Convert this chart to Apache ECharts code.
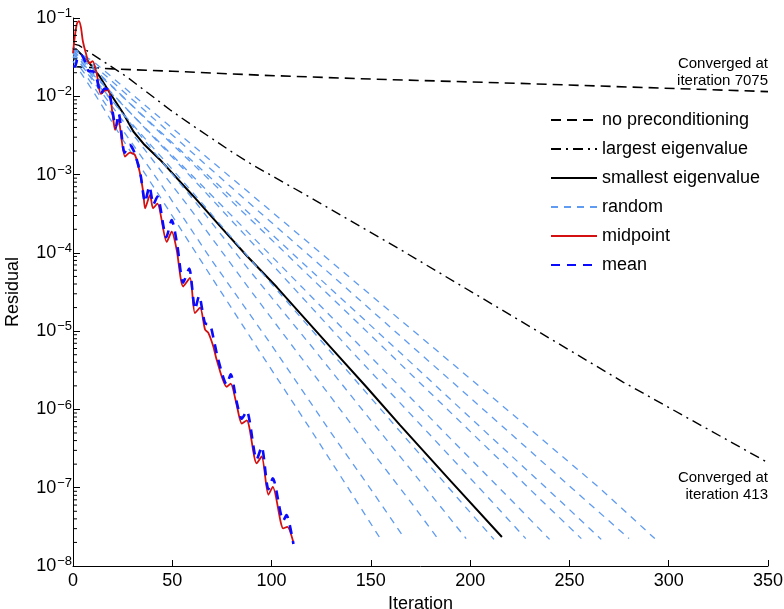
<!DOCTYPE html>
<html>
<head>
<meta charset="utf-8">
<script src="https://cdn.jsdelivr.net/npm/echarts@6/dist/echarts.min.js"></script>
<style>
  html, body { margin: 0; padding: 0; background: #ffffff; }
  #chart { width: 784px; height: 609px; }
</style>
</head>
<body>
<div id="chart"></div>
<script>
// points are [iteration, log10(residual)]
const noPrecond = [[0, -1.62], [20, -1.65], [50, -1.68], [94, -1.73], [150, -1.78], [225, -1.835], [290, -1.89], [350, -1.94]]

const largestEig = [[0, -1.33], [3, -1.35], [15, -1.55], [27, -1.75], [49, -2.175], [60, -2.37], [70, -2.54], [80, -2.71],
  [90, -2.87], [120, -3.30], [165, -3.96], [220, -4.79], [277, -5.65], [350, -6.68]]

const smallestEig = [[0, -1.38], [2, -1.41], [7, -1.536], [13.6, -1.753], [18.6, -1.958], [25.2, -2.213], [30.4, -2.45],
  [36, -2.62], [43.8, -2.81], [60.4, -3.27], [75.5, -3.70], [87.6, -4.04], [102.7, -4.44], [114.3, -4.77],
  [130.9, -5.24], [148, -5.72], [164.7, -6.20], [190, -6.91], [216, -7.63]]

const randomRuns = [
  [[0, -1.55], [10, -1.93], [25, -2.55], [45, -3.33], [70, -4.32], [95, -5.30], [120, -6.27], [140, -7.06], [155, -7.66]],
  [[0, -1.50], [10, -1.86], [25, -2.43], [45, -3.15], [70, -4.10], [100, -5.18], [130, -6.30], [150, -7.02], [167, -7.65]],
  [[0, -1.45], [10, -1.80], [30, -2.48], [60, -3.47], [90, -4.50], [120, -5.51], [150, -6.52], [170, -7.18], [184, -7.66]],
  [[0, -1.42], [10, -1.75], [30, -2.38], [60, -3.30], [90, -4.26], [120, -5.19], [150, -6.14], [180, -7.08], [198, -7.65]],
  [[0, -1.48], [10, -1.78], [30, -2.36], [60, -3.22], [95, -4.25], [130, -5.27], [165, -6.29], [195, -7.17], [212, -7.66]],
  [[0, -1.40], [10, -1.70], [30, -2.24], [65, -3.18], [100, -4.14], [140, -5.25], [180, -6.33], [210, -7.15], [228, -7.65]],
  [[0, -1.45], [10, -1.72], [35, -2.37], [70, -3.27], [110, -4.30], [150, -5.33], [190, -6.37], [220, -7.14], [240, -7.66]],
  [[0, -1.38], [10, -1.63], [35, -2.25], [75, -3.22], [115, -4.20], [160, -5.30], [200, -6.28], [235, -7.14], [256, -7.65]],
  [[0, -1.42], [10, -1.65], [40, -2.36], [80, -3.29], [120, -4.23], [165, -5.28], [210, -6.34], [245, -7.16], [266, -7.66]],
  [[0, -1.37], [10, -1.59], [40, -2.27], [85, -3.28], [130, -4.28], [175, -5.29], [220, -6.30], [255, -7.09], [280, -7.65]],
  [[0, -1.40], [10, -1.55], [45, -2.30], [90, -3.26], [135, -4.22], [180, -5.18], [225, -6.14], [265, -7.00], [293, -7.65]],
]

const midpoint = [[0, -1.45], [1, -1.22], [2, -1.07], [3, -1.04], [4, -1.12], [5, -1.30], [6.5, -1.45], [8.2, -1.58],
  [9.9, -1.55], [12, -1.72], [14, -1.97], [16, -1.93], [17.8, -1.92], [20.3, -2.30], [21.2, -2.43], [22.8, -2.30],
  [26.2, -2.77], [28.7, -2.72], [31.2, -2.75], [33.7, -2.98], [35.4, -3.23], [36.3, -3.43], [38.8, -3.26], [40.3, -3.43],
  [42.5, -3.37], [47.2, -3.86], [49.7, -3.73], [52.2, -3.96], [55.5, -4.43], [58.9, -4.32], [61.4, -4.77], [64, -4.70],
  [66.5, -4.98], [68.1, -5.02], [70.7, -5.20], [72.4, -5.37], [77.4, -5.71], [79.4, -5.67], [82.4, -5.94], [85, -6.18],
  [87.5, -6.14], [92.5, -6.69], [95, -6.60], [98.4, -7.09], [100.6, -6.99], [105.9, -7.52], [107.9, -7.50], [111, -7.70]]

const mean = [[0, -1.62], [1, -1.62], [2.5, -1.49], [4, -1.47], [6, -1.55], [8, -1.68], [10, -1.68], [12, -1.78],
  [14, -1.97], [16, -1.90], [18, -1.92], [20.3, -2.25], [21.5, -2.40], [23, -2.22], [26, -2.72], [28.5, -2.62],
  [31, -2.72], [34, -3.00], [36.3, -3.35], [38.5, -3.15], [40.5, -3.38], [42.5, -3.28], [47, -3.80], [49.7, -3.58],
  [52.5, -3.90], [55.5, -4.38], [58.5, -4.20], [61.5, -4.72], [63.5, -4.55], [66.5, -4.90], [69, -4.92], [71, -5.12],
  [73, -5.35], [77.4, -5.68], [79.4, -5.55], [82.4, -5.90], [85, -6.12], [87.5, -6.02], [92.5, -6.64], [95, -6.48],
  [98.4, -7.02], [100.6, -6.88], [105.9, -7.42], [107.5, -7.35], [111, -7.72]]

const legendNames = ['no preconditioning', 'largest eigenvalue', 'smallest eigenvalue', 'random', 'midpoint', 'mean']
const minorMantissas = [2, 3, 4, 5, 6, 7, 8, 9]
const minorDecades = [-8, -7, -6, -5, -4, -3, -2]

const FONT = '"Liberation Sans", Arial, Helvetica, sans-serif'

const toResidual = (pts) => pts.map(([it, lg]) => [it, Math.pow(10, lg)])

const minorTicks = []
minorDecades.forEach((d) => {
  minorMantissas.forEach((m) => minorTicks.push([0, m * Math.pow(10, d)]))
})

const lineSeries = (name, pts, color, width, type, extra) => Object.assign({
  name,
  type: 'line',
  data: toResidual(pts),
  symbol: 'none',
  smooth: false,
  clip: true,
  lineStyle: { color, width, type },
  itemStyle: { color },
  emphasis: { disabled: true },
}, extra || {})

const chart = echarts.init(document.getElementById('chart'))

const lastNoPrecond = noPrecond[noPrecond.length - 1]
const lastLargest = largestEig[largestEig.length - 1]

chart.setOption({
  animation: false,
  textStyle: { fontFamily: FONT },
  grid: { left: 73, right: 16, top: 18, bottom: 43, outerBoundsMode: 'none' },
  legend: {
    data: legendNames,
    orient: 'vertical',
    left: 545,
    top: 106,
    padding: 5,
    itemWidth: 46,
    itemHeight: 14,
    itemGap: 11,
    itemStyle: { opacity: 0 },
    textStyle: { fontSize: 18, color: '#000', fontFamily: FONT },
    selectedMode: false,
  },
  xAxis: {
    type: 'value',
    min: 0,
    max: 350,
    interval: 50,
    name: 'Iteration',
    nameLocation: 'middle',
    nameGap: 27,
    nameTextStyle: { fontSize: 18, color: '#000', fontFamily: FONT },
    axisLine: { lineStyle: { color: '#000', width: 1 } },
    axisTick: { inside: true, length: 6, lineStyle: { color: '#000' } },
    axisLabel: { fontSize: 18, color: '#000', margin: 6, fontFamily: FONT },
    splitLine: { show: false },
  },
  yAxis: {
    type: 'log',
    logBase: 10,
    min: 1e-8,
    max: 1e-1,
    splitNumber: 7,
    name: 'Residual',
    nameLocation: 'middle',
    nameGap: 51,
    nameTextStyle: { fontSize: 18, color: '#000', fontFamily: FONT },
    axisLine: { show: true, lineStyle: { color: '#000', width: 1 } },
    axisTick: { inside: true, length: 7, lineStyle: { color: '#000' } },
    axisLabel: {
      margin: 1,
      formatter: (v) => '{b|10}{s|' + String(Math.round(Math.log10(v))).replace('-', '\u2212') + '}',
      rich: {
        b: { fontSize: 18, color: '#000', fontFamily: FONT },
        s: { fontSize: 13, color: '#000', fontFamily: FONT, padding: [0, 0, 9, 1] },
      },
    },
    splitLine: { show: false },
  },
  series: [
    lineSeries('no preconditioning', noPrecond, '#000', 1.6, [10, 6], {
      markPoint: {
        symbol: 'circle',
        symbolSize: 0,
        data: [{ coord: [lastNoPrecond[0], Math.pow(10, lastNoPrecond[1])] }],
        label: {
          show: true,
          position: 'top',
          align: 'right',
          distance: 2,
          formatter: 'Converged at\niteration 7075',
          fontSize: 15,
          lineHeight: 17,
          color: '#000',
          fontFamily: FONT,
        },
      },
    }),
    lineSeries('largest eigenvalue', largestEig, '#000', 1.4, [10, 5, 2, 5], {
      markPoint: {
        symbol: 'circle',
        symbolSize: 0,
        data: [{ coord: [lastLargest[0], Math.pow(10, lastLargest[1])] }],
        label: {
          show: true,
          position: 'bottom',
          align: 'right',
          distance: 7,
          formatter: 'Converged at\niteration 413',
          fontSize: 15,
          lineHeight: 17,
          color: '#000',
          fontFamily: FONT,
        },
      },
    }),
    lineSeries('smallest eigenvalue', smallestEig, '#000', 2, 'solid'),
    ...randomRuns.map((run) => lineSeries('random', run, '#5f9bf0', 1.3, [7, 6])),
    lineSeries('midpoint', midpoint, '#d41010', 1.8, 'solid', { smooth: 0.25 }),
    lineSeries('mean', mean, '#0a0aff', 2.6, [9, 7], { smooth: 0.25 }),
    {
      // minor ticks of the log axis (2..9 of every decade)
      type: 'custom',
      silent: true,
      clip: false,
      z: 5,
      data: minorTicks,
      renderItem: (params, api) => {
        const p = api.coord([0, api.value(1)])
        return {
          type: 'line',
          shape: { x1: p[0], y1: p[1], x2: p[0] + 4, y2: p[1] },
          style: { stroke: '#000', lineWidth: 1 },
        }
      },
    },
  ],
})
</script>
</body>
</html>
